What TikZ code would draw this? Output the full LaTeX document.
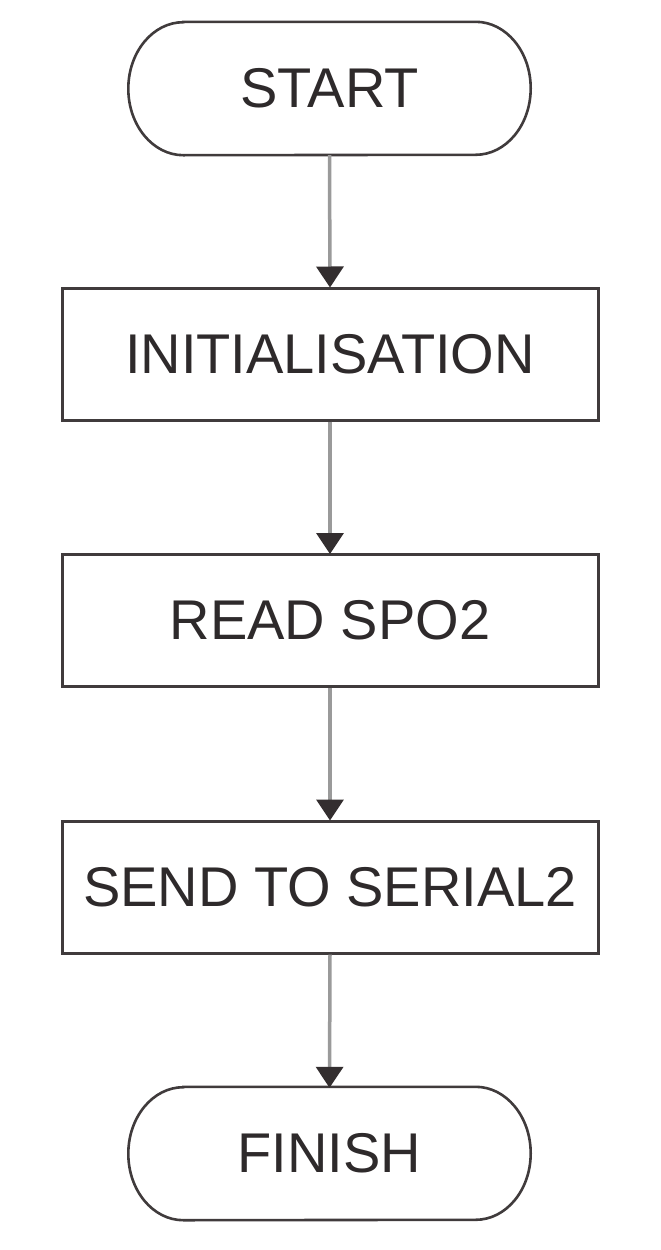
\documentclass[tikz,border=0pt]{standalone}
\usepackage{fontspec}
\setmainfont{Liberation Sans}
\usetikzlibrary{arrows.meta}
\definecolor{edge}{HTML}{403B3C}
\definecolor{conn}{HTML}{9A9A9A}
\definecolor{tipc}{HTML}{332E2F}
\definecolor{txt}{HTML}{2E2A2B}
\tikzset{
  stepbox/.style={draw=edge, line width=3pt, minimum width=536pt, minimum height=132pt, inner sep=0pt, text=txt, font=\fontsize{56}{67}\selectfont},
  pill/.style={minimum width=402pt, minimum height=133pt, inner sep=0pt, text=txt, font=\fontsize{56}{67}\selectfont},
  pillline/.style={draw=edge, line width=2.6pt},
  conn/.style={draw=conn, line width=3.5pt, -{Triangle[width=27pt,length=21pt,color=tipc,fill=tipc]}, shorten >=-1pt}
}
\newcommand{\pillpath}[1]{%
  \draw[pillline] ([xshift=55pt]#1.north west) -- ([xshift=-55pt]#1.north east)
    arc[start angle=90, end angle=-90, x radius=55pt, y radius=66.5pt]
    -- ([xshift=55pt]#1.south west)
    arc[start angle=270, end angle=90, x radius=55pt, y radius=66.5pt] -- cycle;}
\begin{document}
\begin{tikzpicture}[x=1pt,y=-1pt]
\useasboundingbox (0,0) rectangle (661,1250);
\fill[white] (0,0) rectangle (661,1250);
\node[pill] (start) at (329.5,88.5) {START};
\pillpath{start}
\node[stepbox] (init) at (330,354) {INITIALISATION};
\node[stepbox] (read) at (330,620.5) {READ SPO2};
\node[stepbox] (send) at (330,887) {SEND TO SERIAL2};
\node[pill] (finish) at (329.5,1153.5) {FINISH};
\pillpath{finish}
\draw[conn] (start.south) -- (init.north);
\draw[conn] (init.south) -- (read.north);
\draw[conn] (read.south) -- (send.north);
\draw[conn] (send.south) -- (finish.north);
\end{tikzpicture}
\end{document}
